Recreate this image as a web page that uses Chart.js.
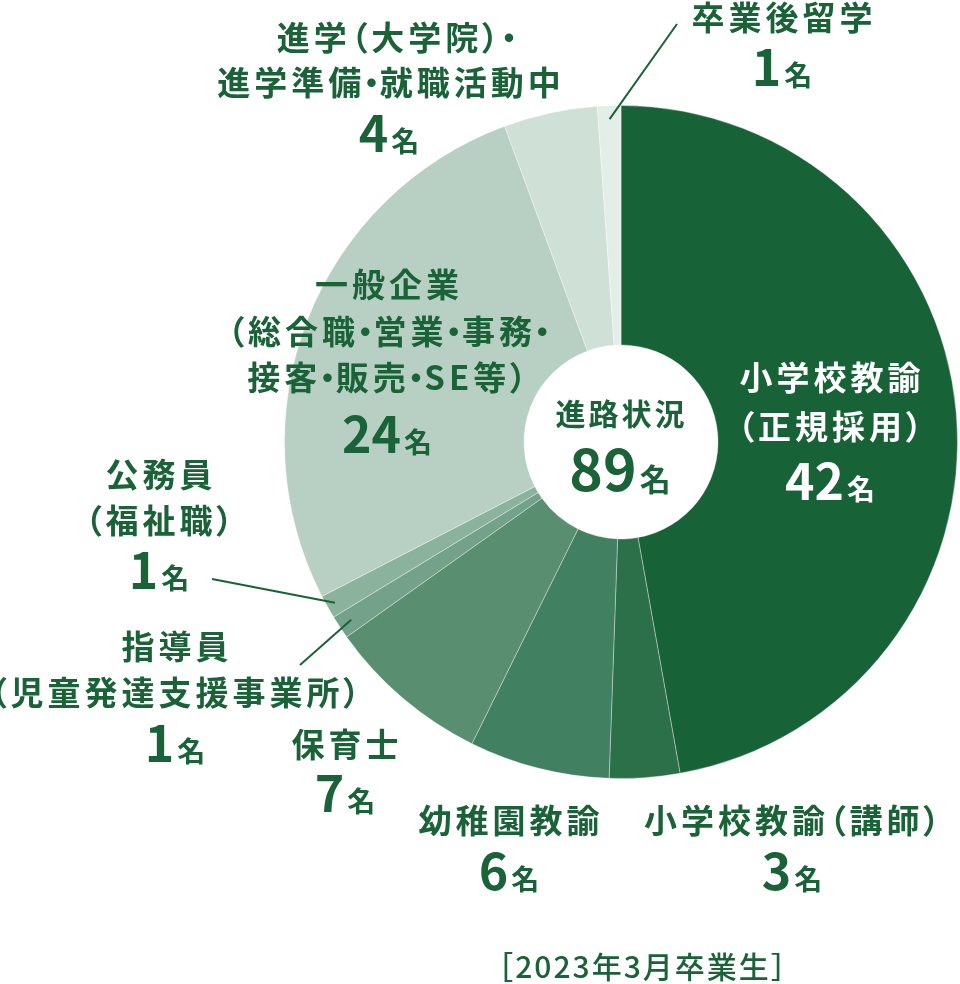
<!DOCTYPE html>
<html lang="ja">
<head>
<meta charset="utf-8">
<title>進路状況</title>
<script src="https://cdn.jsdelivr.net/npm/chart.js@4/dist/chart.umd.min.js"></script>
<style>
  html, body { margin: 0; padding: 0; background: #ffffff; }
  #wrap { width: 960px; height: 984px; position: relative; overflow: hidden; }
  canvas { display: block; background: #ffffff; }
  .lbl {
    position: absolute;
    transform: translateX(-50%);
    line-height: 0;
    white-space: nowrap;
    font-family: "Noto Sans CJK JP", "Noto Sans", sans-serif;
    font-weight: 700;
    font-feature-settings: "palt";
  }
  .lbl .dot { letter-spacing: 0; margin-left: -2px; }
</style>
</head>
<body>
<div id="wrap"><canvas id="career" width="960" height="984"></canvas></div>
<script>
// ---- data ----
const categories = [
  '小学校教諭（正規採用）',
  '小学校教諭（講師）',
  '幼稚園教諭',
  '保育士',
  '指導員（児童発達支援事業所）',
  '公務員（福祉職）',
  '一般企業（総合職・営業・事務・接客・販売・SE等）',
  '進学（大学院）・進学準備・就職活動中',
  '卒業後留学'
];
const counts = [42, 3, 6, 7, 1, 1, 24, 4, 1];
const labelLines = [
  ['小学校教諭', '（正規採用）'],
  ['小学校教諭（講師）'],
  ['幼稚園教諭'],
  ['保育士'],
  ['指導員', '（児童発達支援事業所）'],
  ['公務員', '（福祉職）'],
  ['一般企業', '（総合職・営業・事務・', '接客・販売・SE等）'],
  ['進学（大学院）・', '進学準備・就職活動中'],
  ['卒業後留学']
];
const unitText = '名';
const centerTitle = '進路状況';
const footnote = '［2023年3月卒業生］';

// ---- styles ----
const sliceColors = ['#176236', '#2c7049', '#418060', '#5a8e70', '#74a189',
                     '#8bb29c', '#b8d0c3', '#cfe0d6', '#e4eee9'];
const ink = '#1a6237';
const FONT = '"Noto Sans CJK JP", "Noto Sans", sans-serif';
const TEXT_SIZE = 33;
const TEXT_SPACING = 4;

// label block: centre x, centre y of first line, gap between line centres,
// offset from last line centre to the number baseline, optional per-line x shift
const labelLayout = [
  { x: 830, y: 378, gap: 49, num: 73, color: '#ffffff' },
  { x: 792, y: 821, gap: 46, num: 69 },
  { x: 509, y: 821, gap: 46, num: 69 },
  { x: 345, y: 745, gap: 46, num: 67 },
  { x: 175, y: 647, gap: 46, num: 69 },
  { x: 159, y: 475, gap: 46, num: 68 },
  { x: 387, y: 285, gap: 46.5, num: 75 },
  { x: 389, y: 38, gap: 45, num: 69, shift: [6, 0] },
  { x: 782, y: 18, gap: 46, num: 68 }
];

// leader lines: label end point -> slice (depth as fraction of outer radius)
const leaders = [
  { index: 8, from: [677, 24], depth: 0.96 },
  { index: 5, from: [212, 579], depth: 0.975 },
  { index: 4, from: [300, 665], depth: 0.96 }
];

const wrap = document.getElementById('wrap');

// one line of label text as real DOM text, centred on (cx, cy);
// middle dots get tighter spacing
function placeLine(text, cx, cy, size, spacing, color) {
  const el = document.createElement('div');
  el.className = 'lbl';
  text.split('・').forEach((part, i) => {
    if (i > 0) {
      const d = document.createElement('span');
      d.className = 'dot';
      d.textContent = '・';
      el.appendChild(d);
    }
    if (part) el.appendChild(document.createTextNode(part));
  });
  el.style.left = (cx + spacing / 2) + 'px';
  el.style.top = (cy - 0.056 * size) + 'px';
  el.style.fontSize = size + 'px';
  el.style.letterSpacing = spacing + 'px';
  el.style.color = color;
  wrap.appendChild(el);
}

function drawCount(ctx, cx, baseline, value, color, numSize, unitSize) {
  const numStr = String(value);
  ctx.save();
  ctx.letterSpacing = '0px';
  ctx.fillStyle = color;
  ctx.textBaseline = 'alphabetic';
  ctx.textAlign = 'left';
  ctx.font = `700 ${numSize}px ${FONT}`;
  const wNum = ctx.measureText(numStr).width;
  ctx.font = `700 ${unitSize}px ${FONT}`;
  const wUnit = ctx.measureText(unitText).width;
  const gap = 3;
  const start = cx - (wNum + gap + wUnit) / 2;
  ctx.font = `700 ${numSize}px ${FONT}`;
  ctx.fillText(numStr, start, baseline);
  ctx.font = `700 ${unitSize}px ${FONT}`;
  ctx.fillText(unitText, start + wNum + gap, baseline);
  ctx.restore();
}

const labelPlugin = {
  id: 'sliceLabels',
  afterDatasetsDraw(chart) {
    const ctx = chart.ctx;
    const meta = chart.getDatasetMeta(0);
    const ds = chart.data.datasets[0];
    ctx.save();

    // leader lines
    ctx.strokeStyle = ink;
    ctx.lineWidth = 2;
    leaders.forEach(l => {
      const arc = meta.data[l.index];
      const p = arc.getProps(['x', 'y', 'startAngle', 'endAngle', 'outerRadius'], true);
      const a = (p.startAngle + p.endAngle) / 2;
      const r = p.outerRadius * l.depth;
      ctx.beginPath();
      ctx.moveTo(l.from[0], l.from[1]);
      ctx.lineTo(p.x + Math.cos(a) * r, p.y + Math.sin(a) * r);
      ctx.stroke();
    });

    // counts under each label
    labelLines.forEach((lines, i) => {
      const L = labelLayout[i];
      const lastY = L.y + (lines.length - 1) * L.gap;
      drawCount(ctx, L.x, lastY + L.num, ds.data[i], L.color || ink, 50, 28);
    });

    // centre text
    const c = meta.data[0];
    const total = ds.data.reduce((s, v) => s + v, 0);
    ctx.fillStyle = ink;
    ctx.textAlign = 'center';
    ctx.textBaseline = 'middle';
    ctx.letterSpacing = '3px';
    ctx.font = `700 30px ${FONT}`;
    ctx.fillText(centerTitle, c.x + 0.5, c.y - 28);
    drawCount(ctx, c.x - 1, c.y + 49, total, ink, 57, 31);

    // footnote
    ctx.letterSpacing = '2px';
    ctx.font = `500 30px ${FONT}`;
    ctx.fillText(footnote, 643, 967);

    ctx.restore();
  }
};

new Chart(document.getElementById('career'), {
  type: 'doughnut',
  data: {
    labels: categories,
    datasets: [{
      data: counts,
      backgroundColor: sliceColors,
      borderColor: 'rgba(255,255,255,0.35)',
      borderWidth: 1
    }]
  },
  options: {
    responsive: false,
    animation: false,
    cutout: 97,
    layout: { padding: { left: 284, right: 2, top: 105, bottom: 205 } },
    plugins: {
      legend: { display: false },
      tooltip: { enabled: false }
    }
  },
  plugins: [labelPlugin]
});

// label text lines
labelLines.forEach((lines, i) => {
  const L = labelLayout[i];
  lines.forEach((t, k) => {
    const dx = L.shift ? L.shift[k] : 0;
    placeLine(t, L.x + dx, L.y + k * L.gap, TEXT_SIZE, TEXT_SPACING, L.color || ink);
  });
});
</script>
</body>
</html>
